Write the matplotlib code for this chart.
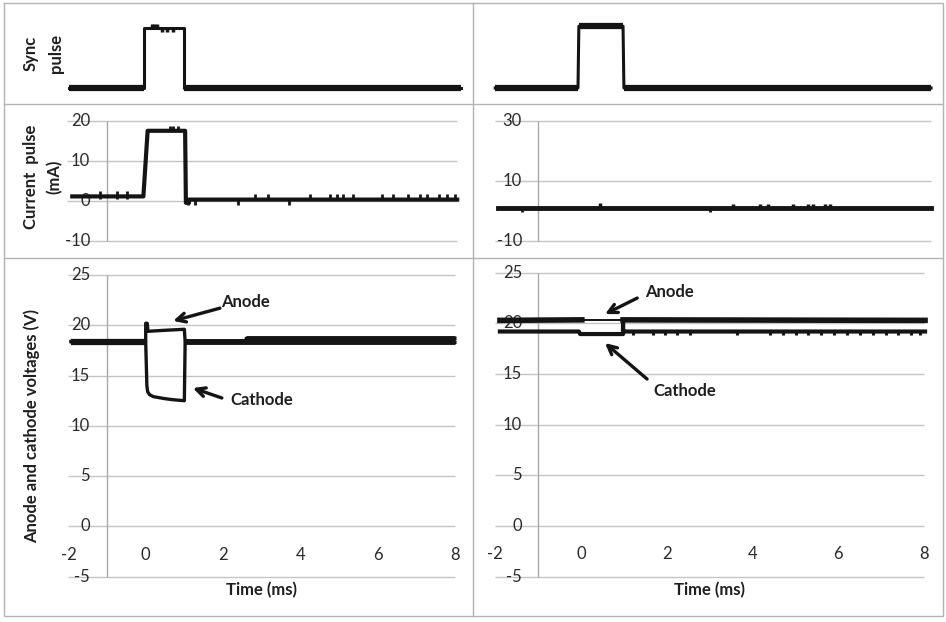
import matplotlib
matplotlib.use("Agg")
import matplotlib.pyplot as plt

plt.rcParams['font.family'] = ['Lato', 'DejaVu Sans']

# ---- data ----
# sync pulse (arbitrary units, 0 = low, 1 = high)
sync_l_t = [-1.98, -0.04, -0.04, 0.99, 0.99, 8.16]
sync_l_v = [0, 0, 1, 1, 0, 0]
sync_l_blip_t = [0.17, 0.22, 0.28, 0.42, 0.55, 0.71]
sync_l_blip_v = [1.07, 1.07, 1.07, 0.93, 0.93, 0.93]

sync_r_t = [-2.0, -0.07, -0.05, 0.98, 1.0, 8.16]
sync_r_v = [0, 0, 1.03, 1.03, 0, 0]

# current pulse (mA)
cur_l_t = [-1.9, -0.06, 0.05, 1.02, 1.04, 1.12, 1.12, 8.06]
cur_l_v = [1.1, 1.1, 17.5, 17.5, -0.5, -0.5, 0.3, 0.3]
cur_l_top_t = [0.63, 0.7, 0.83]
cur_l_top_v = [18.8, 18.8, 18.8]
cur_l_up_t = [-1.18, -0.74, -0.48, 2.83, 3.16, 4.25, 4.77, 4.95, 5.1,
              5.37, 6.11, 6.4, 6.79, 7.1, 7.27, 7.6, 7.8, 8.0]
cur_l_up_v = [2.5, 2.5, 2.5, 1.7, 1.7, 1.7, 1.7, 1.7, 1.7,
              1.7, 1.7, 1.7, 1.7, 1.7, 1.7, 1.7, 1.7, 1.7]
cur_l_dn_t = [1.09, 1.27, 2.39, 3.71]
cur_l_dn_v = [-1.1, -1.1, -1.0, -1.0]

cur_r_t = [-1.93, 8.16]
cur_r_v = [1.1, 1.1]
cur_r_up_t = [0.44, 3.55, 4.17, 4.36, 4.94, 5.29, 5.41, 5.69, 5.8]
cur_r_up_v = [2.6, 2.4, 2.4, 2.4, 2.4, 2.4, 2.4, 2.4, 2.4]
cur_r_dn_t = [-1.38, 3.0]
cur_r_dn_v = [-0.4, -0.4]

# anode / cathode voltages (V)
anode_l_t = [-1.93, 0.0, 0.0, 0.04, 0.06, 0.5, 1.0, 1.02, 2.6, 2.6, 8.0]
anode_l_v = [18.4, 18.4, 20.2, 20.2, 19.4, 19.5, 19.6, 18.4, 18.4, 18.7, 18.7]
cathode_l_t = [-1.93, 0.0, 0.02, 0.03, 0.05, 0.1, 0.2, 0.35, 0.5, 0.7, 1.0, 1.02, 8.0]
cathode_l_v = [18.35, 18.35, 15.5, 14.0, 13.4, 13.1, 12.9, 12.8, 12.7, 12.6, 12.5, 18.3, 18.3]

anode_r_t = [-1.89, 0.02, 0.98, 8.02]
anode_r_v = [20.3, 20.35, 20.35, 20.3]
cathode_r_t = [-1.89, -0.05, -0.02, 0.98, 0.98, 0.98, 8.02]
cathode_r_v = [19.2, 19.2, 18.95, 18.95, 20.3, 19.2, 19.2]
cathode_r_blip_t = [1.21, 1.68, 1.96, 2.24, 2.54, 3.64, 4.4, 4.7, 5.0, 5.3, 5.6, 5.9,
                    6.2, 6.5, 6.8, 7.1, 7.4, 7.7, 7.9]

x_ticks = [-2, 0, 2, 4, 6, 8]
cur_l_ticks = [20, 10, 0, -10]
cur_r_ticks = [30, 10, -10]
volt_ticks = [25, 20, 15, 10, 5, 0, -5]

W, H = 946, 622
fig = plt.figure(figsize=(W / 100, H / 100), dpi=100)

# background axes in pixel coordinates for the table frame and labels
bg = fig.add_axes([0, 0, 1, 1], zorder=-1)
bg.set_xlim(0, W)
bg.set_ylim(H, 0)
bg.axis('off')
frame_c = '#b3b3b3'
bg.plot([4, 943, 943, 4, 4], [3, 3, 616, 616, 3], color=frame_c, lw=1)
bg.plot([473, 473], [3, 616], color=frame_c, lw=1)
bg.plot([4, 943], [104, 104], color=frame_c, lw=1)
bg.plot([4, 943], [258, 258], color=frame_c, lw=1)

lab_kw = dict(fontsize=12, fontweight='bold', color='#1e1e1e')
bg.text(43, 53, "Sync\npulse", rotation=90, ha='center', va='center',
        linespacing=1.75, **lab_kw)
bg.text(43, 177, "Current  pulse\n(mA)", rotation=90, ha='center', va='center',
        linespacing=1.6, **lab_kw)
bg.text(32, 426, "Anode and cathode voltages (V)", rotation=90, ha='center',
        va='center', **lab_kw)


def make_ax(px_l, px_r, px_t, px_b, xlim, ylim):
    ax = fig.add_axes([px_l / W, 1 - px_b / H, (px_r - px_l) / W, (px_b - px_t) / H])
    ax.set_xlim(*xlim)
    ax.set_ylim(*ylim)
    ax.axis('off')
    ax.patch.set_alpha(0)
    return ax


# column x mapping: left 0 -> 145.7px, 38.65 px/ms ; right 0 -> 581px, 42.9 px/ms
xl_left = ((60 - 145.7) / 38.65, (470 - 145.7) / 38.65)
xl_right = ((490 - 581) / 42.9, (940 - 581) / 42.9)

grid_c = '#c4c4c4'
axis_c = '#a8a8a8'
trace_c = '#141414'
tick_c = '#2a2a2a'
tick_fs = 12


def grid_and_ticks(ax, ticks, x0, x1, lab_x):
    for y in ticks:
        ax.hlines(y, x0, x1, color=grid_c, lw=1, zorder=1)
        ax.text(lab_x, y, str(y), ha='right', va='center', fontsize=tick_fs,
                color=tick_c, zorder=2)
    ax.vlines(-1, min(ticks), max(ticks), color=axis_c, lw=1, zorder=1)


# ---- sync pulse ----
ax = make_ax(60, 470, 10, 100, xl_left, (-0.2, 1.3))
ax.plot(sync_l_t, sync_l_v, color=trace_c, lw=2.2, zorder=3)
ax.hlines(0, sync_l_t[0], sync_l_t[1], color=trace_c, lw=4.5, zorder=3)
ax.hlines(0, sync_l_t[4], sync_l_t[5], color=trace_c, lw=4.5, zorder=3)
ax.vlines(sync_l_blip_t, 1.0, sync_l_blip_v, color=trace_c, lw=2.5, zorder=3)

ax = make_ax(490, 940, 10, 100, xl_right, (-0.2, 1.3))
ax.plot(sync_r_t, sync_r_v, color=trace_c, lw=2.2, zorder=3)
ax.hlines(0, sync_r_t[0], sync_r_t[1], color=trace_c, lw=4.5, zorder=3)
ax.hlines(0, sync_r_t[4], sync_r_t[5], color=trace_c, lw=4.5, zorder=3)
ax.hlines(sync_r_v[2], sync_r_t[2], sync_r_t[3], color=trace_c, lw=4.5, zorder=3)

# ---- current pulse ----
ax = make_ax(60, 470, 108, 252, xl_left, (-12.8, 23.2))
grid_and_ticks(ax, cur_l_ticks, -2.03, 8.05, -1.44)
ax.plot(cur_l_t, cur_l_v, color=trace_c, lw=3, zorder=3)
ax.vlines(cur_l_top_t, 17.5, cur_l_top_v, color=trace_c, lw=2, zorder=3)
ax.vlines(cur_l_up_t, 0.5, cur_l_up_v, color=trace_c, lw=2, zorder=3)
ax.vlines(cur_l_dn_t, 0.3, cur_l_dn_v, color=trace_c, lw=2, zorder=3)

ax = make_ax(490, 940, 108, 252, xl_right, (-13.7, 34.2))
grid_and_ticks(ax, cur_r_ticks, -2.0, 8.15, -1.375)
ax.plot(cur_r_t, cur_r_v, color=trace_c, lw=3.5, zorder=3)
ax.vlines(cur_r_up_t, 1.1, cur_r_up_v, color=trace_c, lw=2.5, zorder=3)
ax.vlines(cur_r_dn_t, 1.1, cur_r_dn_v, color=trace_c, lw=2, zorder=3)

# ---- anode and cathode voltages ----
arrow = dict(arrowstyle='->', lw=2.4, color=trace_c, mutation_scale=16,
             shrinkA=0, shrinkB=0)

ax = make_ax(60, 470, 262, 612, xl_left, (-8.51, 26.29))
grid_and_ticks(ax, volt_ticks, -2.0, 8.0, -1.44)
ax.plot(cathode_l_t, cathode_l_v, color=trace_c, lw=2.4, zorder=3)
ax.plot(anode_l_t, anode_l_v, color=trace_c, lw=2.4, zorder=3)
ax.hlines(18.35, anode_l_t[0], anode_l_t[1], color=trace_c, lw=4.5, zorder=3)
ax.hlines(18.45, anode_l_t[7], anode_l_t[8], color=trace_c, lw=3.5, zorder=3)
ax.hlines(anode_l_v[9], anode_l_t[9], anode_l_t[10], color=trace_c, lw=3.5, zorder=3)
ax.hlines(cathode_l_v[11], cathode_l_t[11], cathode_l_t[12], color=trace_c, lw=3.5, zorder=3)
for t in x_ticks:
    ax.text(t, -2.8, str(t), ha='center', va='center', fontsize=tick_fs, color=tick_c)
ax.text(3.0, -6.3, "Time (ms)", ha='center', va='center', **lab_kw)
ax.annotate("", xy=(0.71, 20.43), xytext=(1.92, 21.7), arrowprops=arrow)
ax.text(2.58, 22.3, "Anode", ha='center', va='center', **lab_kw)
ax.annotate("", xy=(1.22, 13.76), xytext=(1.97, 12.77), arrowprops=arrow)
ax.text(3.0, 12.57, "Cathode", ha='center', va='center', **lab_kw)

ax = make_ax(490, 940, 262, 612, xl_right, (-8.48, 26.06))
grid_and_ticks(ax, volt_ticks, -2.0, 8.0, -1.375)
ax.plot(anode_r_t[0:2], anode_r_v[0:2], color=trace_c, lw=4, zorder=3)
ax.plot(anode_r_t[1:3], anode_r_v[1:3], color=trace_c, lw=1.4, zorder=3)
ax.plot(anode_r_t[2:4], anode_r_v[2:4], color=trace_c, lw=4, zorder=3)
ax.plot(cathode_r_t, cathode_r_v, color=trace_c, lw=3, zorder=3)
ax.vlines(cathode_r_blip_t, 19.2, 18.85, color=trace_c, lw=2.2, zorder=3)
for t in x_ticks:
    ax.text(t, -2.8, str(t), ha='center', va='center', fontsize=tick_fs, color=tick_c)
ax.text(3.0, -6.3, "Time (ms)", ha='center', va='center', **lab_kw)
ax.annotate("", xy=(0.56, 20.92), xytext=(1.31, 22.5), arrowprops=arrow)
ax.text(2.07, 23.12, "Anode", ha='center', va='center', **lab_kw)
ax.annotate("", xy=(0.56, 18.06), xytext=(1.54, 14.51), arrowprops=arrow)
ax.text(2.42, 13.33, "Cathode", ha='center', va='center', **lab_kw)

fig.savefig("out.png", dpi=100)
